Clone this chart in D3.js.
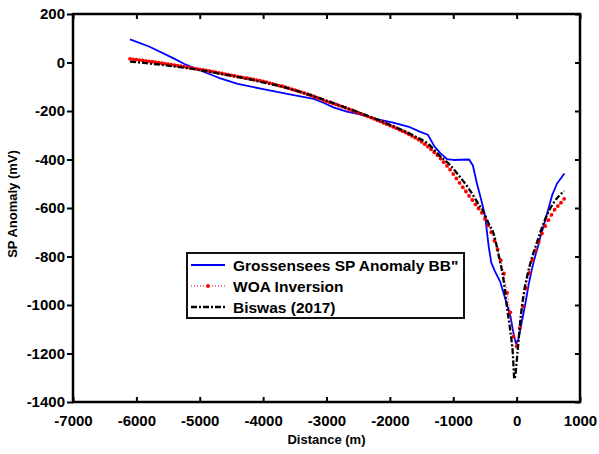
<!DOCTYPE html>
<html>
<head>
<meta charset="utf-8">
<script src="https://cdn.jsdelivr.net/npm/d3@7"></script>
<style>
  body { margin: 0; background: #fff; }
  svg text { font-family: "Liberation Sans", Arial, sans-serif; font-weight: bold; }
</style>
</head>
<body>
<div id="chart"></div>
<script>
const width = 599;
const height = 454;
const margin = {top: 14, right: 19, bottom: 52, left: 73};

// Grossensees SP Anomaly BB" (observed)
const obsX = [-6100, -5800, -5420, -5250, -5000, -4700, -4400, -4000, -3600, -3200, -3050, -2890, -2680, -2470, -2260, -1950, -1700, -1520, -1400, -1300, -1200, -1100, -1000, -750, -690, -630, -550, -495, -465, -440, -400, -340, -258, -178, -100, -47, -10, 30, 85, 137, 190, 243, 295, 348, 374, 480, 559, 638, 754];
const obsY = [95, 66, 18, -5, -32, -63, -88, -110, -130, -150, -166, -185, -203, -214, -230, -248, -265, -286, -298, -345, -375, -398, -402, -400, -425, -495, -575, -637, -706, -760, -825, -862, -905, -975, -1044, -1120, -1160, -1140, -1065, -996, -915, -850, -796, -748, -720, -624, -548, -499, -458];

// WOA Inversion
const woaX = [-6100, -6050, -6000, -5950, -5900, -5850, -5800, -5750, -5700, -5650, -5600, -5550, -5500, -5450, -5400, -5350, -5300, -5250, -5200, -5150,
  -5100, -5050, -5000, -4950, -4900, -4850, -4800, -4750, -4700, -4650, -4600, -4550, -4500, -4450, -4400, -4350, -4300, -4250, -4200, -4150,
  -4100, -4050, -4000, -3950, -3900, -3850, -3800, -3750, -3700, -3650, -3600, -3550, -3500, -3450, -3400, -3350, -3300, -3250, -3200, -3150,
  -3100, -3050, -3000, -2950, -2900, -2850, -2800, -2750, -2700, -2650, -2600, -2550, -2500, -2450, -2400, -2350, -2300, -2250, -2200, -2150,
  -2100, -2050, -2000, -1950, -1900, -1850, -1800, -1750, -1700, -1650, -1600, -1550, -1500, -1450, -1400, -1350, -1300, -1250, -1200, -1150,
  -1100, -1050, -1000, -950, -900, -850, -800, -750, -700, -650, -600, -550, -500, -450, -400, -350, -300, -250, -200, -150,
  -100, -50, 0, 50, 100, 150, 200, 250, 300, 350, 400, 450, 500, 550, 600, 650, 700, 750];
const woaY = [15, 13, 12, 10, 9, 7, 5, 3, 1, -1, -3, -5, -7, -9, -11, -13, -15, -17, -20, -22,
  -24, -26, -28, -30, -33, -35, -38, -40, -43, -45, -48, -50, -53, -55, -58, -60, -63, -65, -68, -70,
  -73, -75, -78, -81, -85, -88, -91, -95, -98, -102, -106, -110, -114, -118, -122, -126, -131, -135, -140, -145,
  -150, -155, -160, -164, -169, -173, -178, -182, -187, -192, -197, -202, -207, -212, -217, -222, -227, -232, -238, -243,
  -249, -254, -260, -265, -271, -277, -283, -289, -296, -303, -310, -318, -327, -337, -347, -358, -370, -382, -396, -411,
  -426, -442, -460, -478, -496, -514, -532, -550, -567, -585, -602, -620, -645, -672, -700, -735, -770, -815, -870, -950,
  -1030, -1130, -1170, -1095, -1005, -930, -868, -815, -775, -740, -705, -675, -650, -628, -607, -592, -578, -562];

// Biswas (2017)
const bisX = [-6100, -5800, -5500, -5200, -4900, -4600, -4300, -4000, -3700, -3400, -3100, -2800, -2500, -2200, -1900, -1600, -1400, -1200, -1050, -900, -750, -600, -520, -440, -363, -284, -205, -152, -100, -60, -35, 16, 58, 111, 174, 243, 322, 374, 480, 585, 750];
const bisY = [4, -4, -13, -23, -36, -50, -65, -82, -100, -122, -148, -176, -205, -235, -268, -305, -335, -388, -423, -470, -522, -585, -617, -665, -706, -795, -899, -1010, -1106, -1200, -1305, -1189, -1065, -955, -872, -803, -741, -700, -628, -578, -530];

const xTicks = [-7000, -6000, -5000, -4000, -3000, -2000, -1000, 0, 1000];
const yTicks = [200, 0, -200, -400, -600, -800, -1000, -1200, -1400];

const seriesNames = ['Grossensees SP Anomaly BB"', "WOA Inversion", "Biswas (2017)"];

const svg = d3.select("#chart").append("svg")
  .attr("width", width)
  .attr("height", height);

const xScale = d3.scaleLinear().domain([-7000, 1000]).range([margin.left, width - margin.right]);
const yScale = d3.scaleLinear().domain([-1400, 200]).range([height - margin.bottom, margin.top]);
const x0 = margin.left, x1 = width - margin.right;
const y0 = height - margin.bottom, y1 = margin.top;

// axes: left ticks outside, the rest inside
svg.append("g")
  .attr("transform", "translate(0," + y0 + ")")
  .call(d3.axisBottom(xScale).tickValues(xTicks).tickFormat(d => String(d)).tickSize(-5).tickPadding(13))
  .call(g => g.select(".domain").remove());
svg.append("g")
  .attr("transform", "translate(0," + y1 + ")")
  .call(d3.axisTop(xScale).tickValues(xTicks).tickFormat("").tickSize(-5))
  .call(g => g.select(".domain").remove());
svg.append("g")
  .attr("transform", "translate(" + x0 + ",0)")
  .call(d3.axisLeft(yScale).tickValues(yTicks).tickFormat(d => String(d)).tickSize(6).tickPadding(2))
  .call(g => g.select(".domain").remove());
svg.append("g")
  .attr("transform", "translate(" + x1 + ",0)")
  .call(d3.axisRight(yScale).tickValues(yTicks).tickFormat("").tickSize(-5))
  .call(g => g.select(".domain").remove());

svg.selectAll(".tick line").attr("stroke", "#000").attr("stroke-width", 2);
svg.selectAll(".tick text").attr("fill", "#000").style("font-size", "15px");

// frame
svg.append("rect")
  .attr("x", x0).attr("y", y1)
  .attr("width", x1 - x0).attr("height", y0 - y1)
  .attr("fill", "none").attr("stroke", "#000").attr("stroke-width", 2.5);

// series
const obs = obsX.map((x, i) => [x, obsY[i]]);
const woa = woaX.map((x, i) => [x, woaY[i]]);
const bis = bisX.map((x, i) => [x, bisY[i]]);

const line = d3.line().x(d => xScale(d[0])).y(d => yScale(d[1]));
const smooth = d3.line().x(d => xScale(d[0])).y(d => yScale(d[1])).curve(d3.curveMonotoneX);

svg.append("path").datum(obs)
  .attr("d", line).attr("fill", "none")
  .attr("stroke", "#0000ff").attr("stroke-width", 1.8).attr("stroke-linejoin", "round");

svg.append("path").datum(woa)
  .attr("d", line).attr("fill", "none")
  .attr("stroke", "#ff0000").attr("stroke-width", 1).attr("stroke-dasharray", "1,2");
svg.append("g").selectAll("circle").data(woa).enter().append("circle")
  .attr("cx", d => xScale(d[0])).attr("cy", d => yScale(d[1]))
  .attr("r", 1.9).attr("fill", "#ff0000");

svg.append("path").datum(bis)
  .attr("d", smooth).attr("fill", "none")
  .attr("stroke", "#000").attr("stroke-width", 2.3).attr("stroke-dasharray", "6,2,2,2");

// legend
const legend = svg.append("g");
legend.append("rect")
  .attr("x", 187).attr("y", 253).attr("width", 277).attr("height", 65)
  .attr("fill", "#fff").attr("stroke", "#111").attr("stroke-width", 2);

const rowY = [265, 286, 307];
legend.append("line").attr("x1", 191).attr("x2", 225).attr("y1", rowY[0]).attr("y2", rowY[0])
  .attr("stroke", "#0000ff").attr("stroke-width", 1.8);
legend.append("line").attr("x1", 191).attr("x2", 225).attr("y1", rowY[1]).attr("y2", rowY[1])
  .attr("stroke", "#ff0000").attr("stroke-width", 1).attr("stroke-dasharray", "1,2");
legend.append("circle").attr("cx", 208).attr("cy", rowY[1]).attr("r", 1.9).attr("fill", "#ff0000");
legend.append("line").attr("x1", 191).attr("x2", 225).attr("y1", rowY[2]).attr("y2", rowY[2])
  .attr("stroke", "#000").attr("stroke-width", 2.3).attr("stroke-dasharray", "6,2,2,2");

legend.selectAll("text.lab").data(seriesNames).enter().append("text")
  .attr("class", "lab")
  .attr("x", 233).attr("y", (d, i) => rowY[i] + 5.5)
  .style("font-size", "15.5px")
  .text(d => d);

// axis titles
svg.append("text")
  .attr("x", (x0 + x1) / 2).attr("y", 444)
  .attr("text-anchor", "middle")
  .style("font-size", "13px")
  .text("Distance (m)");
svg.append("text")
  .attr("transform", "translate(17,204) rotate(-90)")
  .attr("text-anchor", "middle")
  .style("font-size", "13px")
  .text("SP Anomaly (mV)");
</script>
</body>
</html>
